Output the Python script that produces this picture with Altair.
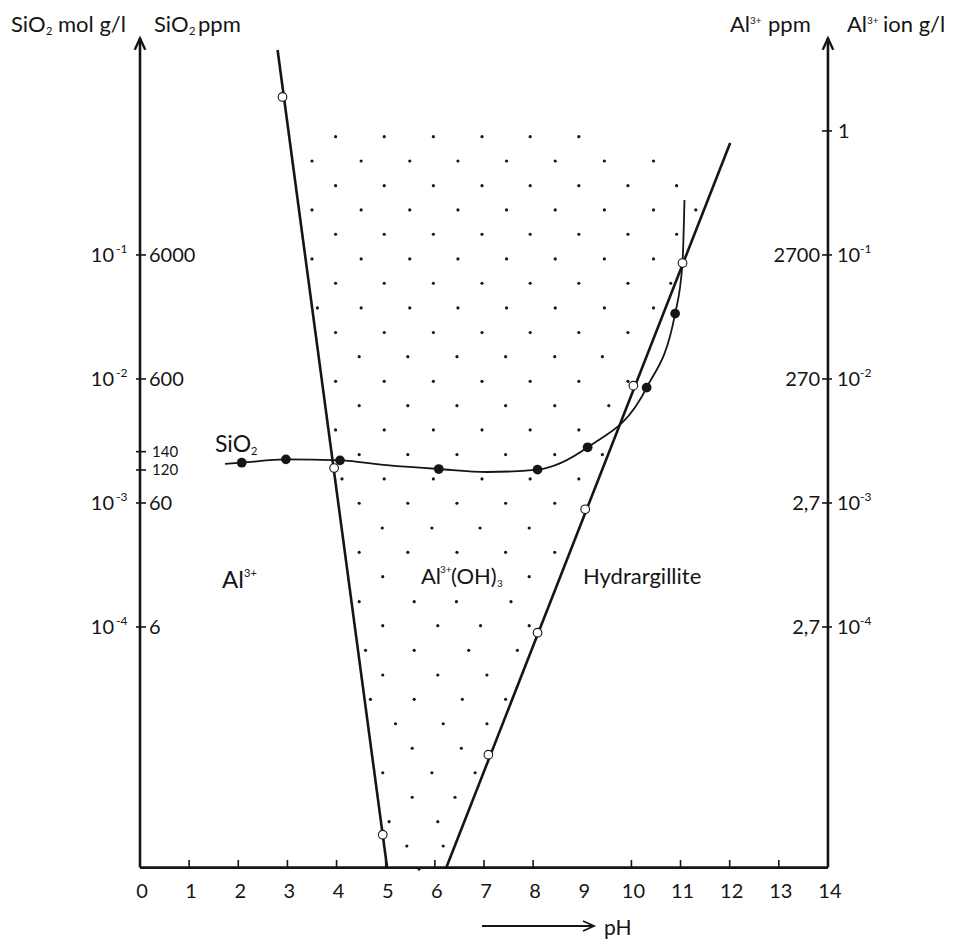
import altair as alt
import pandas as pd

# ---------------- data (x = pH, y = log10 concentration) ----------------
X_TICKS = [1, 2, 3, 4, 5, 6, 7, 8, 10, 11, 12, 13]
X_LABELS = list(range(0, 15))

LEFT_EXP = [-1, -2, -3, -4]
LEFT_PPM = ["6000", "600", "60", "6"]
SMALL_PPM = ["140", "120"]
SMALL_PPM_LOG = [-2.586, -2.734]

RIGHT_EXP = [-1, -2, -3, -4]
RIGHT_PPM = ["2700", "270", "2,7", "2,7"]
RIGHT_ONE_LOG = [0.0]

AXIS_BASE = -5.94
AXIS_TOP = 0.75
ARROW_LOG = 0.705
PH_MIN, PH_MAX = 0, 14

AL_LINE_PH = [2.80, 5.03]
AL_LINE_LOG = [0.653, -5.944]
AL_OPEN_PH = [2.90, 3.95, 4.94]
AL_OPEN_LOG = [0.274, -2.718, -5.675]

HYD_LINE_PH = [6.23, 12.01]
HYD_LINE_LOG = [-5.944, -0.097]
HYD_OPEN_PH = [7.09, 8.09, 9.06, 10.04, 11.04]
HYD_OPEN_LOG = [-5.03, -4.046, -3.051, -2.054, -1.065]

SIO2_CURVE_PH = [1.73, 2.07, 2.97, 4.07, 5.02, 6.08, 7.06, 8.09, 9.11, 10.31, 10.89, 11.04, 11.08]
SIO2_CURVE_LOG = [-2.685, -2.675, -2.648, -2.656, -2.694, -2.726, -2.750, -2.731, -2.551, -2.070, -1.473, -1.065, -0.556]
SIO2_PTS_PH = [2.07, 2.97, 4.07, 6.08, 8.09, 9.11, 10.31, 10.89]
SIO2_PTS_LOG = [-2.675, -2.648, -2.656, -2.726, -2.731, -2.551, -2.070, -1.473]

DOT_ROW_LOG = [-0.046, -0.242, -0.441, -0.637, -0.833, -1.032, -1.228, -1.427, -1.625, -1.820,
               -2.019, -2.215, -2.411, -2.610, -2.806, -3.002, -3.202, -3.398, -3.594, -3.796,
               -3.989, -4.188, -4.387, -4.583, -4.780, -4.978, -5.175, -5.373, -5.570, -5.766, -5.952]
DOT_ROW_PH = [
    [3.98, 4.97, 5.97, 6.96, 7.94, 8.93],
    [3.50, 4.50, 5.49, 6.47, 7.46, 8.45, 9.45, 10.45],
    [3.98, 4.97, 5.97, 6.96, 7.94, 8.93, 9.93, 10.92],
    [3.50, 4.50, 5.49, 6.47, 7.46, 8.45, 9.45, 10.45, 11.31],
    [3.98, 4.97, 5.97, 6.96, 7.94, 8.93, 9.93, 10.92],
    [3.50, 4.50, 5.49, 6.47, 7.46, 8.45, 9.45, 10.45],
    [3.98, 4.97, 5.97, 6.96, 7.94, 8.93, 9.93, 10.80],
    [3.61, 4.50, 5.49, 6.47, 7.46, 8.45, 9.45, 10.45],
    [3.98, 4.97, 5.97, 6.96, 7.94, 8.93, 9.93],
    [4.46, 5.45, 6.45, 7.44, 8.44, 9.41],
    [3.98, 4.97, 5.97, 6.96, 7.94, 8.93, 9.93],
    [4.46, 5.45, 6.45, 7.44, 8.44, 9.54],
    [3.98, 4.97, 5.97, 6.96, 7.94, 8.93],
    [4.46, 5.45, 6.45, 7.44, 8.44, 9.41],
    [4.11, 4.97, 5.97, 6.96, 7.94, 8.93],
    [4.46, 5.45, 6.45, 7.44, 8.44],
    [4.93, 5.94, 6.92, 7.92],
    [4.46, 5.45, 6.45, 7.44, 8.44],
    [4.94, 7.92],
    [4.46, 5.58, 6.44, 7.55],
    [4.94, 6.06, 6.93, 7.92],
    [4.59, 5.58, 6.69, 7.68],
    [4.94, 6.06, 7.06],
    [4.69, 5.58, 6.56, 7.44],
    [5.20, 6.17, 7.06],
    [5.54, 6.54],
    [4.94, 5.94, 6.82],
    [5.54, 6.41],
    [5.07, 6.06],
    [5.43, 6.17],
    [5.68],
]

# ---------------- styling ----------------
FONT = "Lato"
INK = "#151515"
W, H = 957, 940
xs = alt.Scale(domain=[-2.849, 16.626], nice=False, zero=False)
ys = alt.Scale(domain=[-6.524, 1.056], nice=False, zero=False)


def X(f="ph"):
    return alt.X(f"{f}:Q", scale=xs, axis=None)


def Y(f="lg"):
    return alt.Y(f"{f}:Q", scale=ys, axis=None)


def txt(s, x, y, size, align="left"):
    return alt.Chart(pd.DataFrame({"t": [s]})).mark_text(
        align=align, baseline="alphabetic", fontSize=size, font=FONT, color=INK
    ).encode(x=alt.value(x), y=alt.value(y), text="t:N")


layers = []

# axes lines
axes_df = pd.DataFrame({
    "x1": [PH_MIN, PH_MAX, PH_MIN],
    "x2": [PH_MIN, PH_MAX, PH_MAX],
    "y1": [AXIS_BASE, AXIS_BASE, AXIS_BASE],
    "y2": [AXIS_TOP, AXIS_TOP, AXIS_BASE],
})
layers.append(alt.Chart(axes_df).mark_rule(color=INK, strokeWidth=2.6).encode(
    x=X("x1"), x2="x2:Q", y=Y("y1"), y2="y2:Q"))

# arrowheads on the vertical axes
arrow_df = pd.DataFrame({"ph": [PH_MIN, PH_MAX], "lg": [ARROW_LOG, ARROW_LOG]})
layers.append(alt.Chart(arrow_df).mark_point(
    shape="M -1 1.2 L 0 -1 L 1 1.2", filled=False, stroke=INK, strokeWidth=2.4,
    size=110, opacity=1, strokeJoin="miter").encode(x=X(), y=Y()))

# x ticks and labels
layers.append(alt.Chart(pd.DataFrame({"ph": X_TICKS})).mark_rule(color=INK, strokeWidth=1.6).encode(
    x=X(), y=alt.value(860), y2=alt.value(868)))
layers.append(alt.Chart(pd.DataFrame({"ph": X_LABELS, "t": [str(v) for v in X_LABELS]})).mark_text(
    fontSize=20, font=FONT, color=INK, baseline="alphabetic", dx=2).encode(
    x=X(), y=alt.value(898), text="t:N"))

# left axis ticks and labels
left_df = pd.DataFrame({"lg": LEFT_EXP, "ppm": LEFT_PPM, "ten": ["10"] * 4,
                        "sup": [str(e) for e in LEFT_EXP]})
small_df = pd.DataFrame({"lg": SMALL_PPM_LOG, "ppm": SMALL_PPM})
layers.append(alt.Chart(pd.concat([left_df[["lg"]], small_df[["lg"]]])).mark_rule(
    color=INK, strokeWidth=1.6).encode(y=Y(), x=alt.value(136), x2=alt.value(146)))
layers.append(alt.Chart(left_df).mark_text(align="left", baseline="alphabetic", fontSize=20,
                                           font=FONT, color=INK, dy=7).encode(
    y=Y(), x=alt.value(149), text="ppm:N"))
layers.append(alt.Chart(small_df).mark_text(align="left", baseline="alphabetic", fontSize=15,
                                            font=FONT, color=INK, dy=5).encode(
    y=Y(), x=alt.value(152), text="ppm:N"))
layers.append(alt.Chart(left_df).mark_text(align="right", baseline="alphabetic", fontSize=20,
                                           font=FONT, color=INK, dy=7).encode(
    y=Y(), x=alt.value(114), text="ten:N"))
layers.append(alt.Chart(left_df).mark_text(align="left", baseline="alphabetic", fontSize=12,
                                           font=FONT, color=INK, dy=-2).encode(
    y=Y(), x=alt.value(116), text="sup:N"))

# right axis ticks and labels
right_df = pd.DataFrame({"lg": RIGHT_EXP, "ppm": RIGHT_PPM, "ten": ["10"] * 4,
                         "sup": [str(e) for e in RIGHT_EXP]})
layers.append(alt.Chart(pd.DataFrame({"lg": RIGHT_EXP + RIGHT_ONE_LOG})).mark_rule(
    color=INK, strokeWidth=1.6).encode(y=Y(), x=alt.value(822), x2=alt.value(832)))
layers.append(alt.Chart(right_df).mark_text(align="right", baseline="alphabetic", fontSize=20,
                                            font=FONT, color=INK, dy=7).encode(
    y=Y(), x=alt.value(820), text="ppm:N"))
layers.append(alt.Chart(right_df).mark_text(align="left", baseline="alphabetic", fontSize=20,
                                            font=FONT, color=INK, dy=7).encode(
    y=Y(), x=alt.value(837), text="ten:N"))
layers.append(alt.Chart(right_df).mark_text(align="left", baseline="alphabetic", fontSize=12,
                                            font=FONT, color=INK, dy=-2).encode(
    y=Y(), x=alt.value(860), text="sup:N"))
layers.append(alt.Chart(pd.DataFrame({"lg": RIGHT_ONE_LOG, "t": ["1"]})).mark_text(
    align="left", baseline="alphabetic", fontSize=20, font=FONT, color=INK, dy=7).encode(
    y=Y(), x=alt.value(838), text="t:N"))

# dotted field
dot_rows = []
for lg, phs in zip(DOT_ROW_LOG, DOT_ROW_PH):
    for p in phs:
        dot_rows.append({"ph": p, "lg": lg})
layers.append(alt.Chart(pd.DataFrame(dot_rows)).mark_circle(
    size=10, color=INK, opacity=1).encode(x=X(), y=Y()))

# boundary lines
layers.append(alt.Chart(pd.DataFrame({"ph": AL_LINE_PH, "lg": AL_LINE_LOG})).mark_line(
    color=INK, strokeWidth=2.6).encode(x=X(), y=Y()))
layers.append(alt.Chart(pd.DataFrame({"ph": HYD_LINE_PH, "lg": HYD_LINE_LOG})).mark_line(
    color=INK, strokeWidth=2.6).encode(x=X(), y=Y()))

# SiO2 curve
layers.append(alt.Chart(pd.DataFrame({"ph": SIO2_CURVE_PH, "lg": SIO2_CURVE_LOG})).mark_line(
    color=INK, strokeWidth=1.8, interpolate="monotone").encode(x=X(), y=Y()))
layers.append(alt.Chart(pd.DataFrame({"ph": SIO2_PTS_PH, "lg": SIO2_PTS_LOG})).mark_circle(
    size=95, color=INK, opacity=1).encode(x=X(), y=Y()))

# open circles
open_df = pd.DataFrame({"ph": AL_OPEN_PH + HYD_OPEN_PH, "lg": AL_OPEN_LOG + HYD_OPEN_LOG})
layers.append(alt.Chart(open_df).mark_point(
    shape="circle", filled=True, fill="white", stroke=INK, strokeWidth=1.1,
    size=75, opacity=1).encode(x=X(), y=Y()))

# top titles
layers += [
    txt("SiO", 11, 32, 22), txt("2", 46, 35, 11), txt("mol g/l", 58, 32, 22),
    txt("SiO", 154, 32, 22), txt("2", 189, 35, 11), txt("ppm", 198, 32, 22),
    txt("Al", 730, 32, 22), txt("3+", 750, 24, 10), txt("ppm", 768, 32, 22),
    txt("Al", 847, 32, 22), txt("3+", 867, 24, 10), txt("ion g/l", 883, 32, 22),
]

# region labels
layers += [
    txt("SiO", 215, 452, 23), txt("2", 251, 455, 11),
    txt("Al", 222, 588, 24), txt("3+", 244, 577, 11),
    txt("Al", 421, 584, 22), txt("3+", 440, 573, 10), txt("(OH)", 451, 584, 22), txt("3", 497, 587, 10),
    txt("Hydrargillite", 583, 584, 22),
]

# pH arrow
layers.append(alt.Chart(pd.DataFrame({"a": [0]})).mark_rule(color=INK, strokeWidth=1.8).encode(
    x=alt.value(482), x2=alt.value(592), y=alt.value(926)))
layers.append(alt.Chart(pd.DataFrame({"a": [0]})).mark_point(
    shape="M -1.2 -1 L 1 0 L -1.2 1", filled=False, stroke=INK, strokeWidth=1.8,
    size=100, opacity=1).encode(x=alt.value(589), y=alt.value(926)))
layers.append(txt("pH", 604, 935, 21))

chart = alt.layer(*layers).properties(
    width=W, height=H, padding=0, background="white",
    autosize=alt.AutoSizeParams(type="none"),
).configure_view(stroke=None)

chart.save("out.html", embed_options={"renderer": "svg", "actions": False})
